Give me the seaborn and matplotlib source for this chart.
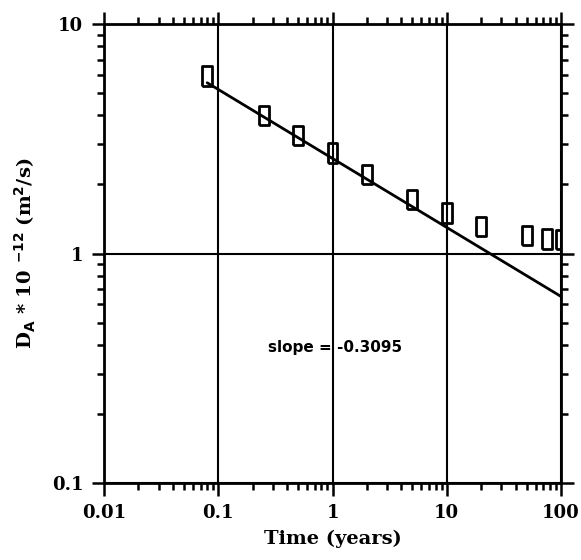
import numpy as np
import pandas as pd
import seaborn as sns
import matplotlib.pyplot as plt
from matplotlib.ticker import LogLocator, NullFormatter, FixedLocator, FixedFormatter

# valori
time_years = [0.08, 0.25, 0.5, 1, 2, 5, 10, 20, 50, 75, 100]
da_values = [5.95, 4.0, 3.27, 2.74, 2.21, 1.72, 1.50, 1.31, 1.20, 1.16, 1.15]

# retta di regressione (estremi)
fit_x = [0.08, 100]
fit_y = [5.55, 0.65]
slope_label = "slope = -0.3095"

x_ticks = [0.01, 0.1, 1, 10, 100]
x_labels = ["0.01", "0.1", "1", "10", "100"]
y_ticks = [0.1, 1, 10]
y_labels = ["0.1", "1", "10"]

sns.set_style("ticks")
plt.rcParams['font.family'] = ['DejaVu Serif']
plt.rcParams['font.weight'] = 'bold'
plt.rcParams['text.color'] = 'black'
plt.rcParams['axes.labelcolor'] = 'black'
plt.rcParams['xtick.color'] = 'black'
plt.rcParams['ytick.color'] = 'black'

df = pd.DataFrame({'t': time_years, 'D': da_values})
df_fit = pd.DataFrame({'t': fit_x, 'D': fit_y})

fig = plt.figure(figsize=(5.81, 5.60), dpi=100)
ax = fig.add_axes([0.179, 0.1375, 0.7866, 0.8195])

# marker rettangolare verticale
box = [(-0.5, -1), (0.5, -1), (0.5, 1), (-0.5, 1), (-0.5, -1)]
sns.lineplot(data=df_fit, x='t', y='D', color='black', linewidth=2, ax=ax)
sns.scatterplot(data=df, x='t', y='D', marker=box, s=200, facecolor='none',
                edgecolor='black', linewidth=2, ax=ax, zorder=3)

ax.set_xscale('log')
ax.set_yscale('log')
ax.set_xlim(0.01, 100)
ax.set_ylim(0.1, 10)

ax.xaxis.set_major_locator(FixedLocator(x_ticks))
ax.xaxis.set_major_formatter(FixedFormatter(x_labels))
ax.yaxis.set_major_locator(FixedLocator(y_ticks))
ax.yaxis.set_major_formatter(FixedFormatter(y_labels))
ax.xaxis.set_minor_locator(LogLocator(base=10, subs=np.arange(2, 10)))
ax.yaxis.set_minor_locator(LogLocator(base=10, subs=np.arange(2, 10)))
ax.xaxis.set_minor_formatter(NullFormatter())
ax.yaxis.set_minor_formatter(NullFormatter())

ax.tick_params(which='both', direction='out', top=True, right=True, color='black',
               labelcolor='black', width=1.8)
ax.tick_params(which='major', length=9, labelsize=13, pad=6)
ax.tick_params(which='minor', length=5)
for lab in ax.get_xticklabels() + ax.get_yticklabels():
    lab.set_fontweight('bold')

ax.grid(True, which='major', color='black', linewidth=1.5)
for s in ax.spines.values():
    s.set_linewidth(2)
    s.set_color('black')

ax.text(1.05, 0.39, slope_label, ha='center', va='center', fontsize=11,
        fontweight='bold', family='DejaVu Sans', color='black')

ax.set_xlabel('Time (years)', fontsize=14, fontweight='bold', labelpad=6)
ax.set_ylabel(r'D$_\mathbf{A}$ * 10 $^{\mathbf{-12}}$ (m$^\mathbf{2}$/s)', fontsize=14,
              fontweight='bold', labelpad=10)

fig.savefig('out.png', dpi=100)
